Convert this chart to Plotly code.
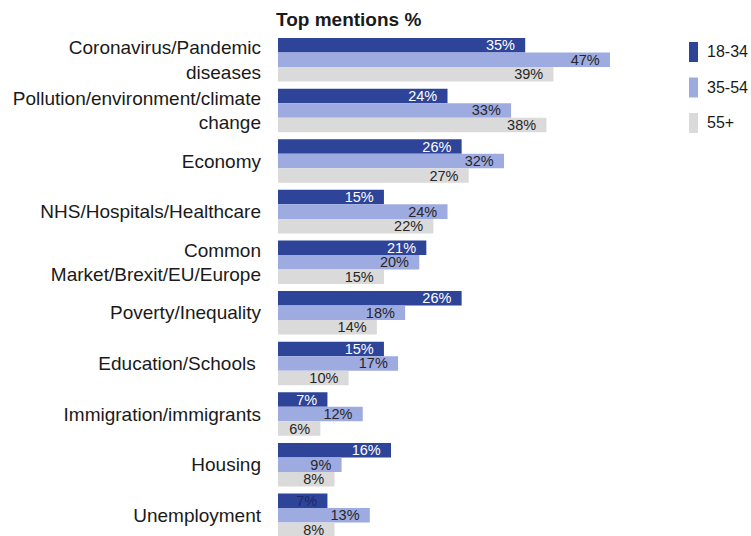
import plotly.graph_objects as go

categories = [
    "Coronavirus/Pandemic<br>diseases",
    "Pollution/environment/climate<br>change",
    "Economy",
    "NHS/Hospitals/Healthcare",
    "Common<br>Market/Brexit/EU/Europe",
    "Poverty/Inequality",
    "Education/Schools\u00a0",
    "Immigration/immigrants",
    "Housing",
    "Unemployment",
]
series_names = ["18-34", "35-54", "55+"]
age_18_34 = [35, 24, 26, 15, 21, 26, 15, 7, 16, 7]
age_35_54 = [47, 33, 32, 24, 20, 18, 17, 12, 9, 13]
age_55_plus = [39, 38, 27, 22, 15, 14, 10, 6, 8, 8]

colors = ["#2E4499", "#9EABE1", "#DADADA"]
FONT = "Liberation Sans, Arial, sans-serif"

fig = go.Figure()
dark_text = ["white"] * 9 + ["#1a2a6a"]
for name, vals, col, tcol in [
    (series_names[0], age_18_34, colors[0], dark_text),
    (series_names[1], age_35_54, colors[1], "#262626"),
    (series_names[2], age_55_plus, colors[2], "#262626"),
]:
    fig.add_trace(go.Bar(
        name=name, y=categories, x=vals, orientation="h",
        marker=dict(color=col, line=dict(width=0)),
        text=[f"{v}%\u2002" for v in vals],
        textposition="inside", insidetextanchor="end",
        constraintext="none", textangle=0,
        textfont=dict(family=FONT, size=14.5, color=tcol),
        showlegend=False,
    ))

# Layout geometry (figure pixels)
W, H = 751, 536
ML, MR, MT, MB = 278, 93, 34, 0
PW, PH = W - ML - MR, H - MT - MB

def px_x(x):  # figure px -> paper x
    return (x - ML) / PW

def px_y(y):  # figure px -> paper y
    return (H - MB - y) / PH

# custom legend: tall swatches with labels on the right
shapes = []
annotations = [dict(text="<b>Top mentions %</b>", xref="paper", yref="paper",
                    x=0, y=1, xanchor="left", yanchor="bottom", yshift=2, xshift=-4,
                    showarrow=False, font=dict(family=FONT, size=19, color="#1a1a1a"))]
leg_x0, leg_w, leg_h, leg_y0, leg_step, leg_text_x = 689, 9, 20, 52, 35.5, 704.5
for i, (name, col) in enumerate(zip(series_names, colors)):
    cy = leg_y0 + i * leg_step
    shapes.append(dict(type="rect", xref="paper", yref="paper",
                       x0=px_x(leg_x0), x1=px_x(leg_x0 + leg_w),
                       y0=px_y(cy + leg_h / 2), y1=px_y(cy - leg_h / 2),
                       fillcolor=col, line=dict(width=0), layer="above"))
    annotations.append(dict(text=name, xref="paper", yref="paper",
                            x=px_x(leg_text_x), y=px_y(cy), xanchor="left", yanchor="middle",
                            showarrow=False, font=dict(family=FONT, size=16, color="#1a1a1a")))

fig.update_layout(
    width=W, height=H,
    margin=dict(l=ML, r=MR, t=MT, b=MB),
    paper_bgcolor="white", plot_bgcolor="white",
    barmode="group", bargap=0.14, bargroupgap=0,
    font=dict(family=FONT, color="#1a1a1a"),
    showlegend=False,
    hovermode=False,
    xaxis=dict(range=[0, 53.8], visible=False, fixedrange=True),
    yaxis=dict(type="category", range=[9.41, -0.51], showgrid=False,
               showline=False, ticks="", ticklabelstandoff=16, fixedrange=True,
               tickfont=dict(family=FONT, size=19, color="#1a1a1a")),
    shapes=shapes,
    annotations=annotations,
)

fig.write_html(
    "out.html",
    config={"displayModeBar": False},
    post_script="document.body.style.margin='0';document.body.style.overflow='hidden';",
)
